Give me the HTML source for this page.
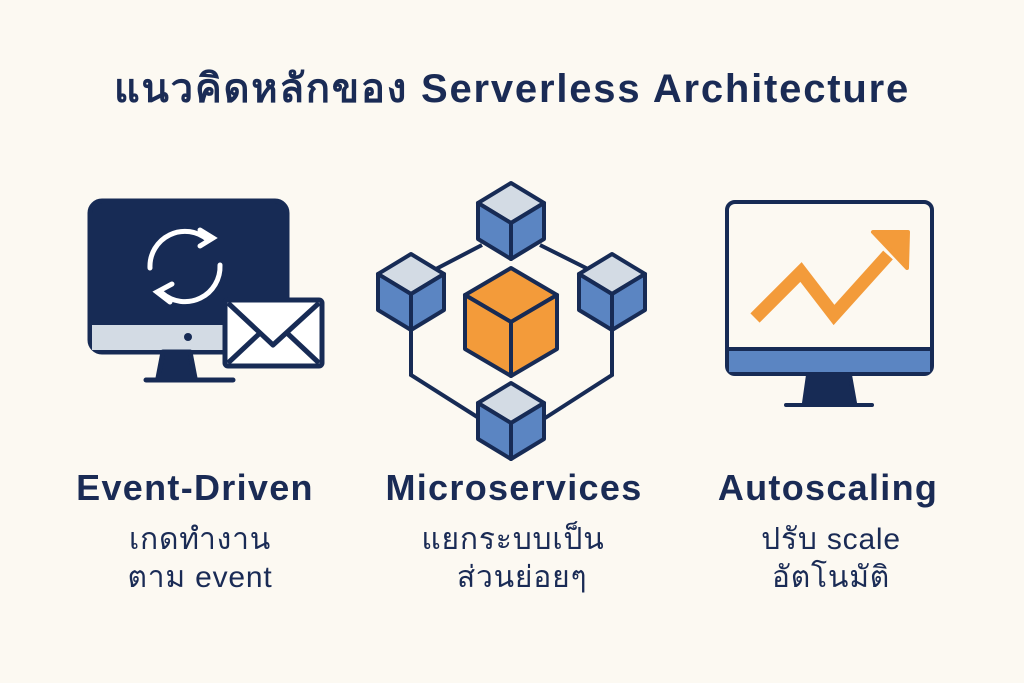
<!DOCTYPE html>
<html><head><meta charset="utf-8"><style>
body{margin:0;width:1024px;height:683px;background:#fcf9f2;overflow:hidden;font-family:"Liberation Sans","Noto Sans CJK SC",sans-serif;color:#1a2b55}
.t{position:absolute;left:0;width:1024px;text-align:center;top:56px;font-size:40px;font-weight:bold;letter-spacing:1.8px}
.h{position:absolute;font-size:36px;font-weight:bold;text-align:center;width:340px;letter-spacing:1.3px}
.s{position:absolute;font-size:30px;text-align:center;width:340px;line-height:38px;letter-spacing:0.8px}
</style></head><body>
<div class="t">แนวคิดหลักของ Serverless Architecture</div>
<svg width="1024" height="683" style="position:absolute;left:0;top:0">
<g stroke="#172b55" stroke-width="5" stroke-linejoin="round">
<rect x="90" y="201" width="197" height="151" rx="12" fill="#172b55"/>
<rect x="92" y="325" width="193" height="25" fill="#d3dbe4" stroke="none"/>
<circle cx="188" cy="337" r="4" fill="#172b55" stroke="none"/>
<path d="M163 352 L158 378 L195 378 L190 352Z" fill="#172b55"/>
<line x1="146" y1="380" x2="233" y2="380" stroke-linecap="round"/>
<rect x="225" y="300" width="97" height="66" rx="3" fill="#fff"/>
<path d="M228 303 L273 345 L319 303" fill="none"/>
<path d="M228 363 L260 333 M319 363 L287 333" fill="none"/>
</g>
<g stroke="#fff" stroke-width="5" fill="none" stroke-linecap="round">
<path d="M150 268 A35 35 0 0 1 208 240"/>
<path d="M220 265 A35 35 0 0 1 162 293"/>
<path d="M200 230 L213 238 L200 246"/>
<path d="M172 284 L157 292 L170 302"/>
</g>
<g stroke="#172b55" stroke-width="4" fill="none">
<path d="M482 245 L434 270 M540 245 L590 270"/>
<path d="M411 325 L411 375 L482 420 M612 325 L612 375 L542 420"/>
</g>
<g stroke="#172b55" stroke-width="4" stroke-linejoin="round">
<path d="M511 183 L544 203 L511 223 L478 203Z" fill="#d3dbe4"/>
<path d="M478 203 L511 223 L511 259 L478 239Z" fill="#5b85c2"/>
<path d="M544 203 L511 223 L511 259 L544 239Z" fill="#5b85c2"/>
<path d="M411 254 L444 274 L411 294 L378 274Z" fill="#d3dbe4"/>
<path d="M378 274 L411 294 L411 330 L378 310Z" fill="#5b85c2"/>
<path d="M444 274 L411 294 L411 330 L444 310Z" fill="#5b85c2"/>
<path d="M612 254 L645 274 L612 294 L579 274Z" fill="#d3dbe4"/>
<path d="M579 274 L612 294 L612 330 L579 310Z" fill="#5b85c2"/>
<path d="M645 274 L612 294 L612 330 L645 310Z" fill="#5b85c2"/>
<path d="M511 383 L544 403 L511 423 L478 403Z" fill="#d3dbe4"/>
<path d="M478 403 L511 423 L511 459 L478 439Z" fill="#5b85c2"/>
<path d="M544 403 L511 423 L511 459 L544 439Z" fill="#5b85c2"/>
<path d="M511 268 L557 295 L511 322 L465 295Z" fill="#f39b3a"/>
<path d="M465 295 L511 322 L511 376 L465 349Z" fill="#f39b3a"/>
<path d="M557 295 L511 322 L511 376 L557 349Z" fill="#f39b3a"/>
<rect x="727" y="202" width="205" height="172" rx="8" fill="#fcf9f2"/>
<rect x="729" y="350" width="201" height="22" fill="#5b85c2" stroke="none"/>
<line x1="729" y1="349" x2="930" y2="349"/>
<path d="M808 375 L804 403 L855 403 L850 375Z" fill="#172b55"/>
<line x1="786" y1="405" x2="872" y2="405" stroke-linecap="round"/>
</g>
<polyline points="755,318 801,272 834,315 888,255" fill="none" stroke="#f39b3a" stroke-width="13" stroke-linejoin="miter"/>
<path d="M873 232 L908 232 L907 268Z" fill="#f39b3a" stroke="#f39b3a" stroke-width="4" stroke-linejoin="round"/>
</svg>
<div class="h" style="left:25px;top:467px">Event-Driven</div>
<div class="s" style="left:30px;top:521px">เกดทำงาน<br>ตาม event</div>
<div class="h" style="left:344px;top:467px">Microservices</div>
<div class="s" style="left:343px;top:521px">แยกระบบเป็น<br>&nbsp;&nbsp;ส่วนย่อยๆ</div>
<div class="h" style="left:658px;top:467px">Autoscaling</div>
<div class="s" style="left:661px;top:521px">ปรับ scale<br>อัตโนมัติ</div>
</body></html>
